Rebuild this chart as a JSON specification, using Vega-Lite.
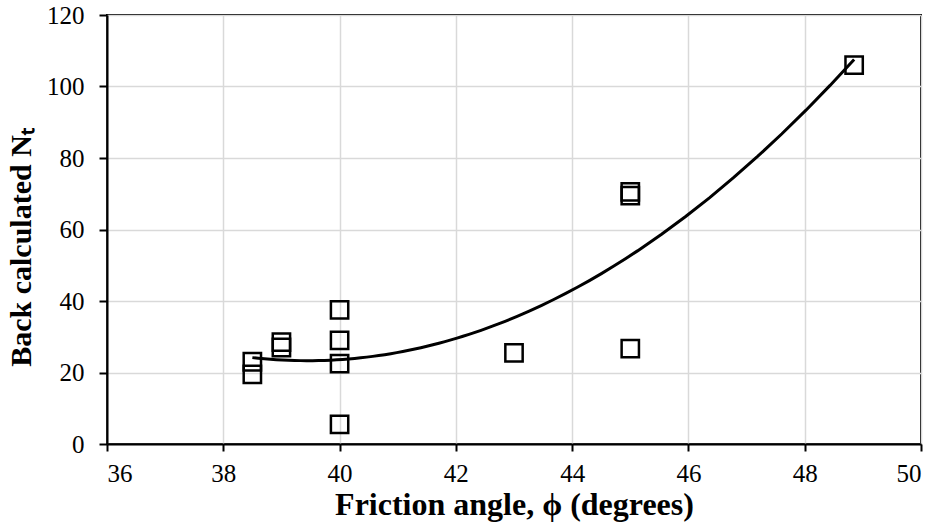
{
  "$schema": "https://vega.github.io/schema/vega-lite/v6.json",
  "width": 814,
  "height": 429,
  "autosize": {"type": "none"},
  "padding": {"left": 107, "top": 15, "right": 12, "bottom": 83},
  "background": "white",
  "config": {
    "font": "Liberation Serif",
    "view": {"stroke": "black", "strokeWidth": 2}
  },
  "data": {
    "values": [
      {"phi": 38.5, "Nt": 23},
      {"phi": 38.5, "Nt": 19.5},
      {"phi": 39, "Nt": 28.5},
      {"phi": 39, "Nt": 27},
      {"phi": 40, "Nt": 37.5},
      {"phi": 40, "Nt": 29},
      {"phi": 40, "Nt": 22.5},
      {"phi": 40, "Nt": 5.5},
      {"phi": 43, "Nt": 25.5},
      {"phi": 45, "Nt": 70.5},
      {"phi": 45, "Nt": 69.5},
      {"phi": 45, "Nt": 26.7},
      {"phi": 48.85, "Nt": 106}
    ]
  },
  "layer": [
    {
      "transform": [{"regression": "Nt", "on": "phi", "method": "poly", "order": 2}],
      "mark": {"type": "line", "color": "black", "strokeWidth": 3, "clip": true},
      "encoding": {
        "x": {"field": "phi", "type": "quantitative"},
        "y": {"field": "Nt", "type": "quantitative"}
      }
    },
    {
      "mark": {"type": "point", "shape": "square", "filled": false, "color": "black", "strokeWidth": 2.5, "size": 300, "opacity": 1},
      "encoding": {
        "x": {
          "field": "phi", "type": "quantitative",
          "scale": {"domain": [36, 50], "nice": false, "zero": false},
          "axis": {
            "values": [36, 38, 40, 42, 44, 46, 48, 50], "format": "d",
            "title": "Friction angle, ϕ (degrees)",
            "domainColor": "black", "domainWidth": 2,
            "tickColor": "black", "tickWidth": 2, "tickSize": 7,
            "gridColor": "#d9d9d9", "gridWidth": 1.5,
            "labelFont": "Liberation Serif", "labelFontSize": 25, "labelColor": "black", "labelPadding": 10,
            "titleFont": "Liberation Serif", "titleFontSize": 32, "titleFontWeight": "bold", "titleColor": "black", "titlePadding": 3
          }
        },
        "y": {
          "field": "Nt", "type": "quantitative",
          "scale": {"domain": [0, 120], "nice": false},
          "axis": {
            "values": [0, 20, 40, 60, 80, 100, 120], "format": "d",
            "title": "Back calculated Nₜ",
            "domainColor": "black", "domainWidth": 2,
            "tickColor": "black", "tickWidth": 2, "tickSize": 8,
            "gridColor": "#d9d9d9", "gridWidth": 1.5,
            "labelFont": "Liberation Serif", "labelFontSize": 25, "labelColor": "black", "labelPadding": 15,
            "titleFont": "Liberation Serif", "titleFontSize": 30, "titleFontWeight": "bold", "titleColor": "black", "titlePadding": 10,
            "titleY": 232
          }
        }
      }
    }
  ]
}
